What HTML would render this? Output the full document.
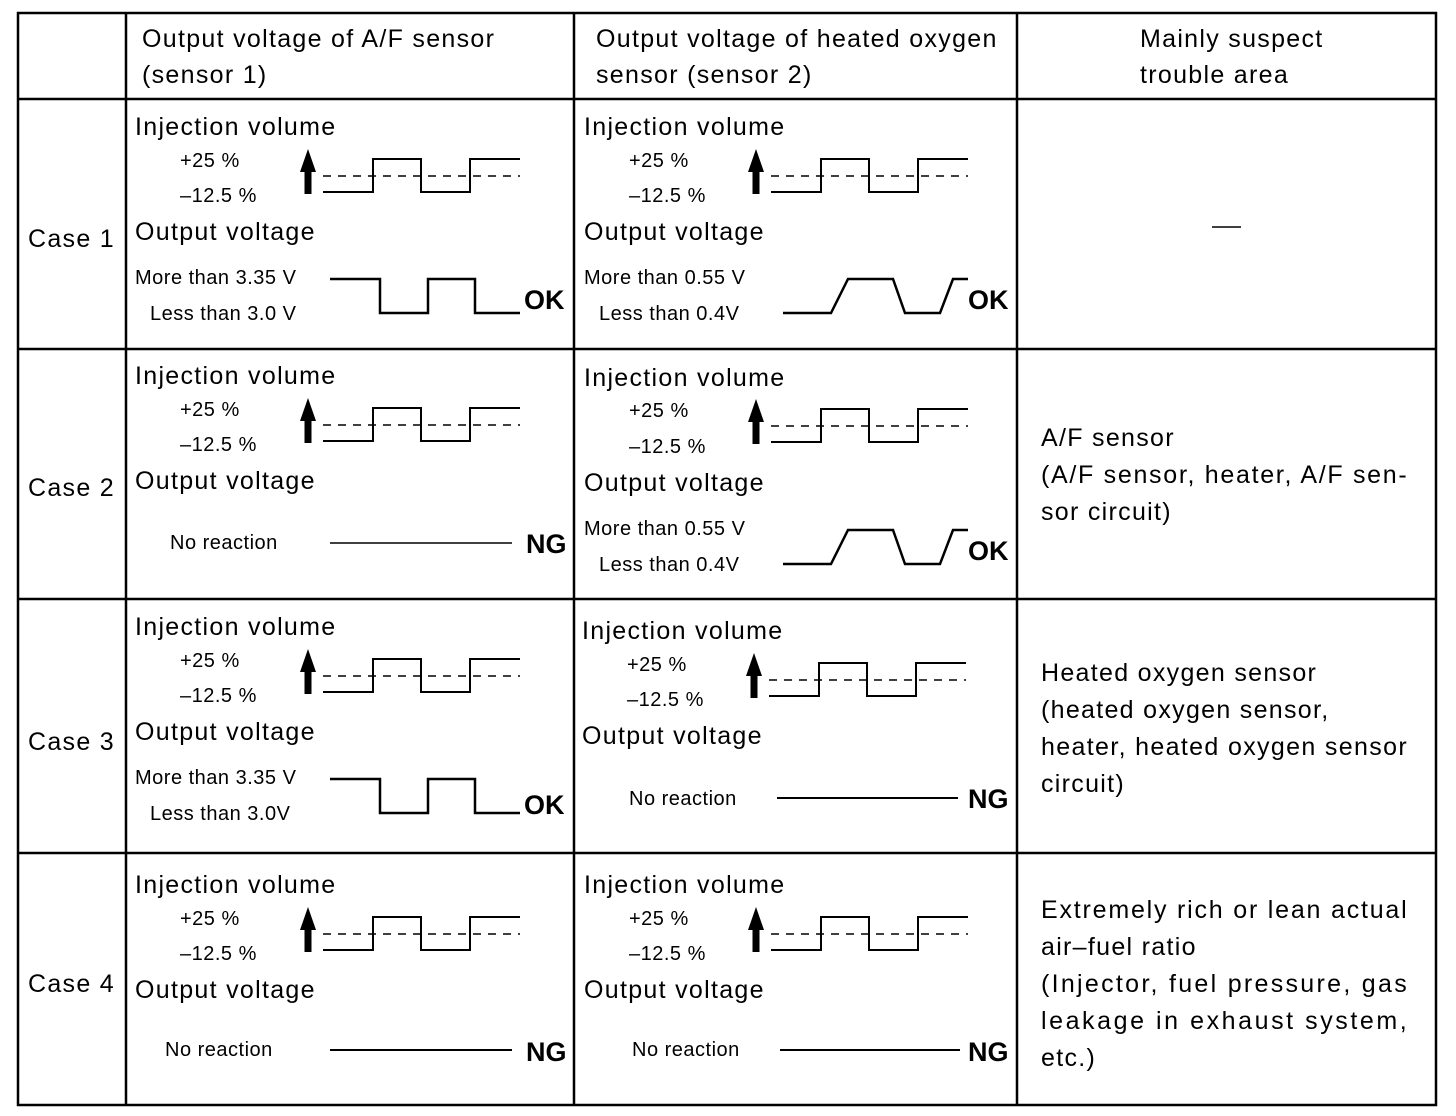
<!DOCTYPE html>
<html><head><meta charset="utf-8"><style>
html,body{margin:0;padding:0;background:#fff}
svg{display:block}
text{font-family:"Liberation Sans",Arial,sans-serif;fill:#000}
.h{font-size:25px;letter-spacing:1.3px}.s{font-size:20px;letter-spacing:0.5px}.b{font-size:27px;font-weight:bold}
</style></head><body>
<svg width="1456" height="1116" viewBox="0 0 1456 1116" xmlns="http://www.w3.org/2000/svg">
<defs>
<g id="inj">
<polygon points="308,149 300,172 304.5,172 304.5,194 311.5,194 311.5,172 316,172" fill="#000"/>
<polyline points="323,192 373,192 373,159 421,159 421,192 470,192 470,159 520,159" fill="none" stroke="#000" stroke-width="2"/>
<line x1="323" y1="176" x2="520" y2="176" stroke="#000" stroke-width="1.5" stroke-dasharray="8,7"/>
</g>
<polyline id="sq" points="330,279 380,279 380,313 428,313 428,279 475,279 475,313 520,313" fill="none" stroke="#000" stroke-width="2.5"/>
<polyline id="tr" points="783,313 831,313 848,279 893,279 905,313 940,313 953,279 968,279" fill="none" stroke="#000" stroke-width="2.5"/>
</defs>
<g stroke="#000" stroke-width="2.5" fill="none">
<rect x="18" y="13" width="1418" height="1092"/>
<line x1="126" y1="13" x2="126" y2="1105"/>
<line x1="574" y1="13" x2="574" y2="1105"/>
<line x1="1017" y1="13" x2="1017" y2="1105"/>
<line x1="18" y1="99" x2="1436" y2="99"/>
<line x1="18" y1="349" x2="1436" y2="349"/>
<line x1="18" y1="599" x2="1436" y2="599"/>
<line x1="18" y1="853" x2="1436" y2="853"/>
</g>
<text class="h" x="142" y="47">Output voltage of A/F sensor</text>
<text class="h" x="142" y="83">(sensor 1)</text>
<text class="h" x="596" y="47">Output voltage of heated oxygen</text>
<text class="h" x="596" y="83">sensor (sensor 2)</text>
<text class="h" x="1140" y="47">Mainly suspect</text>
<text class="h" x="1140" y="83">trouble area</text>
<text class="h" x="28" y="247">Case 1</text>
<text class="h" x="28" y="496">Case 2</text>
<text class="h" x="28" y="750">Case 3</text>
<text class="h" x="28" y="992">Case 4</text>

<g transform="translate(0,0)"><use href="#inj"/><text class="h" x="135" y="135">Injection volume</text><text class="s" x="180" y="167">+25 %</text><text class="s" x="180" y="202">–12.5 %</text><text class="h" x="135" y="240">Output voltage</text></g>
<g transform="translate(448,0)"><use href="#inj"/><text class="h" x="136" y="135">Injection volume</text><text class="s" x="181" y="167">+25 %</text><text class="s" x="181" y="202">–12.5 %</text><text class="h" x="136" y="240">Output voltage</text></g>
<g transform="translate(0,249)"><use href="#inj"/><text class="h" x="135" y="135">Injection volume</text><text class="s" x="180" y="167">+25 %</text><text class="s" x="180" y="202">–12.5 %</text><text class="h" x="135" y="240">Output voltage</text></g>
<g transform="translate(448,250)"><use href="#inj"/><text class="h" x="136" y="136">Injection volume</text><text class="s" x="181" y="167">+25 %</text><text class="s" x="181" y="203">–12.5 %</text><text class="h" x="136" y="241">Output voltage</text></g>
<g transform="translate(0,500)"><use href="#inj"/><text class="h" x="135" y="135">Injection volume</text><text class="s" x="180" y="167">+25 %</text><text class="s" x="180" y="202">–12.5 %</text><text class="h" x="135" y="240">Output voltage</text></g>
<g transform="translate(446,504)"><use href="#inj"/><text class="h" x="136" y="135">Injection volume</text><text class="s" x="181" y="167">+25 %</text><text class="s" x="181" y="202">–12.5 %</text><text class="h" x="136" y="240">Output voltage</text></g>
<g transform="translate(0,758)"><use href="#inj"/><text class="h" x="135" y="135">Injection volume</text><text class="s" x="180" y="167">+25 %</text><text class="s" x="180" y="202">–12.5 %</text><text class="h" x="135" y="240">Output voltage</text></g>
<g transform="translate(448,758)"><use href="#inj"/><text class="h" x="136" y="135">Injection volume</text><text class="s" x="181" y="167">+25 %</text><text class="s" x="181" y="202">–12.5 %</text><text class="h" x="136" y="240">Output voltage</text></g>

<text class="s" x="135" y="284">More than 3.35 V</text>
<text class="s" x="150" y="320">Less than 3.0 V</text>
<use href="#sq"/><text class="b" x="524" y="309">OK</text>
<text class="s" x="584" y="284">More than 0.55 V</text>
<text class="s" x="599" y="320">Less than 0.4V</text>
<use href="#tr"/><text class="b" x="968" y="309">OK</text>
<line x1="1212" y1="227" x2="1241" y2="227" stroke="#000" stroke-width="1.5"/>

<text class="s" x="170" y="549">No reaction</text>
<line x1="330" y1="543" x2="512" y2="543" stroke="#000" stroke-width="1.5"/>
<text class="b" x="526" y="553">NG</text>
<text class="s" x="584" y="535">More than 0.55 V</text>
<text class="s" x="599" y="571">Less than 0.4V</text>
<use href="#tr" transform="translate(0,251)"/><text class="b" x="968" y="560">OK</text>
<text class="h" x="1041" y="446">A/F sensor</text>
<text class="h" x="1041" y="483" textLength="367" lengthAdjust="spacing">(A/F sensor, heater, A/F sen-</text>
<text class="h" x="1041" y="520">sor circuit)</text>

<text class="s" x="135" y="784">More than 3.35 V</text>
<text class="s" x="150" y="820">Less than 3.0V</text>
<use href="#sq" transform="translate(0,500)"/><text class="b" x="524" y="814">OK</text>
<text class="s" x="629" y="805">No reaction</text>
<line x1="777" y1="798" x2="958" y2="798" stroke="#000" stroke-width="2"/>
<text class="b" x="968" y="808">NG</text>
<text class="h" x="1041" y="681">Heated oxygen sensor</text>
<text class="h" x="1041" y="718">(heated oxygen sensor,</text>
<text class="h" x="1041" y="755" textLength="367" lengthAdjust="spacing">heater, heated oxygen sensor</text>
<text class="h" x="1041" y="792">circuit)</text>

<text class="s" x="165" y="1056">No reaction</text>
<line x1="330" y1="1050" x2="512" y2="1050" stroke="#000" stroke-width="2"/>
<text class="b" x="526" y="1061">NG</text>
<text class="s" x="632" y="1056">No reaction</text>
<line x1="780" y1="1050" x2="960" y2="1050" stroke="#000" stroke-width="2"/>
<text class="b" x="968" y="1061">NG</text>
<text class="h" x="1041" y="918" textLength="367" lengthAdjust="spacing">Extremely rich or lean actual</text>
<text class="h" x="1041" y="955">air–fuel ratio</text>
<text class="h" x="1041" y="992" textLength="367" lengthAdjust="spacing">(Injector, fuel pressure, gas</text>
<text class="h" x="1041" y="1029" textLength="367" lengthAdjust="spacing">leakage in exhaust system,</text>
<text class="h" x="1041" y="1066">etc.)</text>
</svg>
</body></html>
